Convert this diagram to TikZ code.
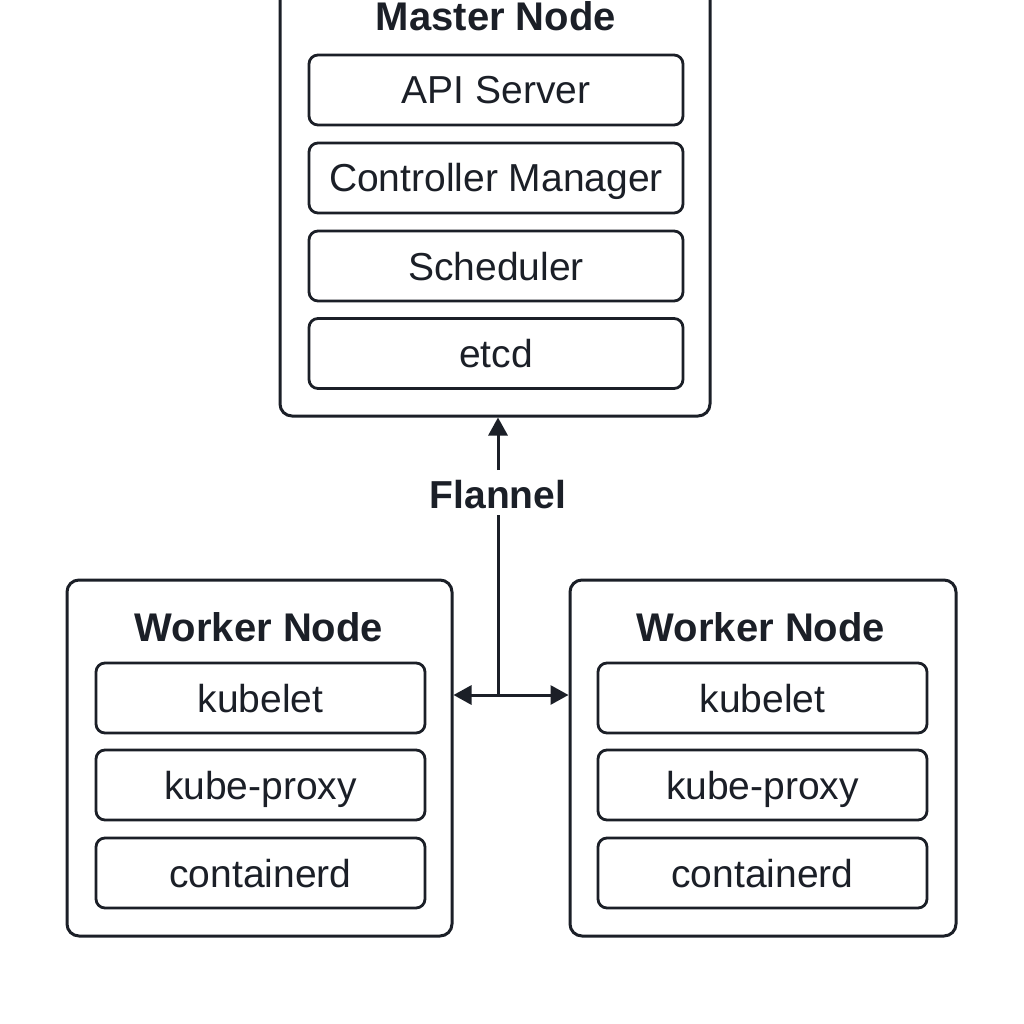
\documentclass[tikz,border=0pt]{standalone}
\usepackage{fontspec}
\setmainfont{Liberation Sans}
\usetikzlibrary{arrows.meta}
\definecolor{ink}{HTML}{1B1F27}
\begin{document}
\begin{tikzpicture}[x=1pt,y=-1pt,
  outerbox/.style={draw=ink, line width=3pt, rounded corners=12pt, inner sep=0pt},
  innerbox/.style={draw=ink, line width=2.8pt, rounded corners=9pt, minimum height=70pt,
    text=ink, font=\fontsize{39}{46}\selectfont, text height=28pt, text depth=0pt, inner sep=0pt},
  ttl/.style={text=ink, font=\fontsize{40}{48}\selectfont\bfseries, anchor=base, inner sep=0pt},
  conn/.style={draw=ink, line width=3pt}]
\useasboundingbox[fill=white] (0,0) rectangle (1024,1024);
\clip (0,0) rectangle (1024,1024);
% master
\node[outerbox, minimum width=430pt, minimum height=436pt] (master) at (495,198) {};
\node[ttl] (mtitle) at (496,31) {Master Node};
\node[innerbox, minimum width=374pt] (api) at (496,90) {API Server};
\node[innerbox, minimum width=374pt] (cm) at (496,178) {Controller Manager};
\node[innerbox, minimum width=374pt] (sch) at (496,266) {Scheduler};
\node[innerbox, minimum width=374pt] (etcd) at (496,353.5) {etcd};
% workers
\node[outerbox, minimum width=385pt, minimum height=356pt] (w1) at (259.5,758) {};
\node[ttl] (w1title) at (259,641) {Worker Node};
\node[innerbox, minimum width=329pt] (k1) at (260.5,698) {kubelet};
\node[innerbox, minimum width=329pt] (p1) at (260.5,785) {kube-proxy};
\node[innerbox, minimum width=329pt] (c1) at (260.5,873) {containerd};
\node[outerbox, minimum width=386pt, minimum height=356pt] (w2) at (763,758) {};
\node[ttl] (w2title) at (761,641) {Worker Node};
\node[innerbox, minimum width=329pt] (k2) at (762.5,698) {kubelet};
\node[innerbox, minimum width=329pt] (p2) at (762.5,785) {kube-proxy};
\node[innerbox, minimum width=329pt] (c2) at (762.5,873) {containerd};
% flannel
\node[ttl, font=\fontsize{39}{46}\selectfont\bfseries] (flannel) at (498,508) {Flannel};
\coordinate (ftop) at (498,470);
\coordinate (fbot) at (498,515);
\coordinate (junc) at (498,695);
\draw[conn, -{Triangle[length=18pt,width=19pt]}] (ftop) -- (ftop |- master.south);
\draw[conn] (fbot) -- (junc);
\draw[conn, {Triangle[length=18pt,width=19pt]}-{Triangle[length=18pt,width=19pt]}] (w1.east |- junc) -- (w2.west |- junc);
\end{tikzpicture}
\end{document}
